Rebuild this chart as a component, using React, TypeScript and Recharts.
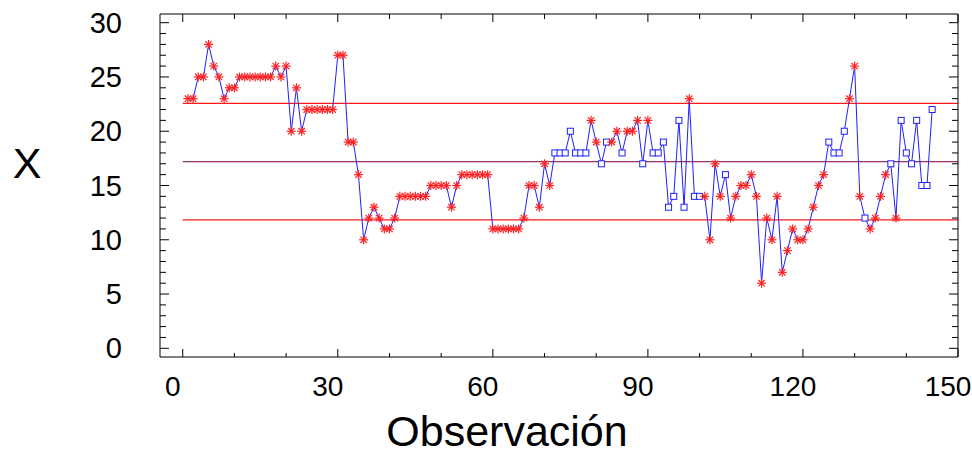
import { LineChart, Line, XAxis, YAxis, ReferenceLine } from "recharts";

const values = [
  23, 23, 25, 25, 28, 26, 25, 23, 24, 24,
  25, 25, 25, 25, 25, 25, 25, 26, 25, 26,
  20, 24, 20, 22, 22, 22, 22, 22, 22, 27,
  27, 19, 19, 16, 10, 12, 13, 12, 11, 11,
  12, 14, 14, 14, 14, 14, 14, 15, 15, 15,
  15, 13, 15, 16, 16, 16, 16, 16, 16, 11,
  11, 11, 11, 11, 11, 12, 15, 15, 13, 17,
  15, 18, 18, 18, 20, 18, 18, 18, 21, 19,
  17, 19, 19, 20, 18, 20, 20, 21, 17, 21,
  18, 18, 19, 13, 14, 21, 13, 23, 14, 14,
  14, 10, 17, 14, 16, 12, 14, 15, 15, 16,
  14, 6, 12, 10, 14, 7, 9, 11, 10, 10,
  11, 13, 15, 16, 19, 18, 18, 20, 23, 26,
  14, 12, 11, 12, 14, 16, 17, 12, 21, 18,
  17, 21, 15, 15, 22,
];

// observations drawn with a square instead of an asterisk
const squareObs = [
  72, 73, 74, 75, 76, 77, 78, 81, 82, 85, 89, 91, 92, 93, 94, 95, 96, 97,
  99, 100, 105, 125, 126, 127, 128, 132, 137, 139, 140, 141, 142, 143, 144, 145,
];

const ucl = 22.57;
const centerLine = 17.2;
const lcl = 11.83;

const xTicks = [0, 10, 20, 30, 40, 50, 60, 70, 80, 90, 100, 110, 120, 130, 140, 150];
const yTicks = Array.from({ length: 31 }, (_, i) => i);

const data = values.map((v, i) => ({
  obs: i + 1,
  x: v,
  square: squareObs.includes(i + 1),
}));

const font = "'Liberation Sans', Arial, sans-serif";

const BottomTick = (props: any) => {
  const { x, y, payload } = props;
  const major = payload.value % 30 === 0;
  return (
    <g>
      <line x1={x} y1={y} x2={x} y2={y - (major ? 8 : 4)} stroke="#000" />
      {major && (
        <text x={x - 10} y={y + 39} textAnchor="middle" fontSize={28} fontFamily={font} fill="#000">
          {payload.value}
        </text>
      )}
    </g>
  );
};

const TopTick = (props: any) => {
  const { x, y, payload } = props;
  const major = payload.value % 30 === 0;
  return <line x1={x} y1={y} x2={x} y2={y + (major ? 8 : 5)} stroke="#000" />;
};

const LeftTick = (props: any) => {
  const { x, y, payload } = props;
  const major = payload.value % 5 === 0;
  return (
    <g>
      <line x1={x} y1={y} x2={x + (major ? 9 : 6)} y2={y} stroke="#000" />
      {major && (
        <text x={x - 38} y={y + 10} textAnchor="end" fontSize={29} fontFamily={font} fill="#000">
          {payload.value}
        </text>
      )}
    </g>
  );
};

const RightTick = (props: any) => {
  const { x, y, payload } = props;
  const major = payload.value % 5 === 0;
  return <line x1={x} y1={y} x2={x - (major ? 9 : 6)} y2={y} stroke="#000" />;
};

const Marker = (props: any) => {
  const { cx, cy, payload, index } = props;
  if (cx == null || cy == null) return <g key={`m${index}`} />;
  if (payload.square) {
    return (
      <rect key={`m${index}`} x={cx - 3} y={cy - 3} width={6} height={6} fill="#fff" stroke="#1f1fff" strokeWidth={1} />
    );
  }
  const r = 4.5;
  const d = 3.2;
  return (
    <g key={`m${index}`} stroke="#ff2020" strokeWidth={1.2}>
      <line x1={cx - r} y1={cy} x2={cx + r} y2={cy} />
      <line x1={cx} y1={cy - r} x2={cx} y2={cy + r} />
      <line x1={cx - d} y1={cy - d} x2={cx + d} y2={cy + d} />
      <line x1={cx - d} y1={cy + d} x2={cx + d} y2={cy - d} />
    </g>
  );
};

export default function App() {
  return (
    <div style={{ position: "absolute", left: 0, top: 0, background: "#fff" }}>
      <LineChart width={972} height={456} data={data} margin={{ top: 0, right: 0, bottom: 0, left: 0 }}>
        <XAxis
          xAxisId="bottom"
          dataKey="obs"
          type="number"
          domain={[-4.4, 150]}
          ticks={xTicks}
          interval={0}
          allowDataOverflow
          height={99}
          tickSize={0}
          tickMargin={0}
          tick={BottomTick}
          axisLine={{ stroke: "#000" }}
          label={{
            content: () => (
              <text x={507} y={446} textAnchor="middle" fontSize={43} fontFamily={font} fill="#000">
                Observación
              </text>
            ),
          }}
        />
        <XAxis
          xAxisId="top"
          orientation="top"
          dataKey="obs"
          type="number"
          domain={[-4.4, 150]}
          ticks={xTicks}
          interval={0}
          allowDataOverflow
          height={14}
          tickSize={0}
          tickMargin={0}
          tick={TopTick}
          axisLine={{ stroke: "#000" }}
        />
        <YAxis
          yAxisId="left"
          type="number"
          domain={[-0.8, 30.8]}
          ticks={yTicks}
          interval={0}
          allowDataOverflow
          width={160}
          tickSize={0}
          tickMargin={0}
          tick={LeftTick}
          axisLine={{ stroke: "#000" }}
          label={{
            content: () => (
              <text x={27} y={178} textAnchor="middle" fontSize={43} fontFamily={font} fill="#000">
                X
              </text>
            ),
          }}
        />
        <YAxis
          yAxisId="right"
          orientation="right"
          type="number"
          domain={[-0.8, 30.8]}
          ticks={yTicks}
          interval={0}
          allowDataOverflow
          width={14}
          tickSize={0}
          tickMargin={0}
          tick={RightTick}
          axisLine={{ stroke: "#000" }}
        />
        <ReferenceLine
          xAxisId="bottom"
          yAxisId="left"
          segment={[{ x: 0, y: ucl }, { x: 150, y: ucl }]}
          stroke="#ff1a1a"
          strokeWidth={1.3}
        />
        <ReferenceLine
          xAxisId="bottom"
          yAxisId="left"
          segment={[{ x: 0, y: centerLine }, { x: 150, y: centerLine }]}
          stroke="#963264"
          strokeWidth={1.3}
        />
        <ReferenceLine
          xAxisId="bottom"
          yAxisId="left"
          segment={[{ x: 0, y: lcl }, { x: 150, y: lcl }]}
          stroke="#ff1a1a"
          strokeWidth={1.3}
        />
        <Line
          xAxisId="bottom"
          yAxisId="left"
          type="linear"
          dataKey="x"
          stroke="#1f1fff"
          strokeWidth={1}
          dot={Marker}
          activeDot={false}
          isAnimationActive={false}
        />
      </LineChart>
    </div>
  );
}
